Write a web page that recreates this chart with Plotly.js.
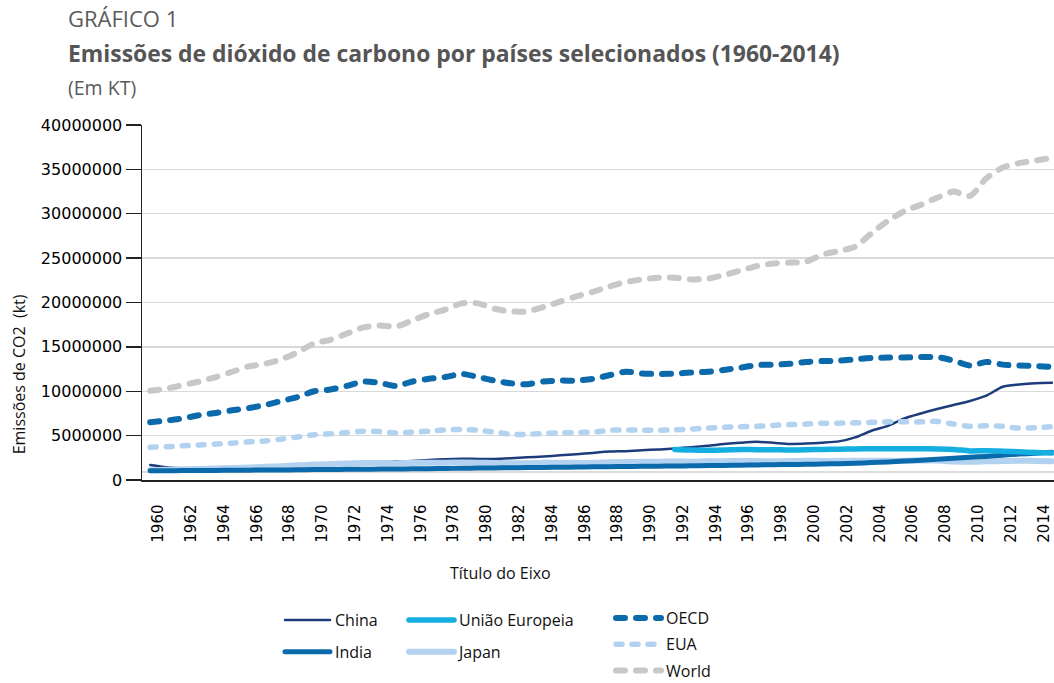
<!DOCTYPE html>
<html><head><meta charset="utf-8">
<script src="https://cdn.plot.ly/plotly-3.0.1.min.js"></script>
<style>
html,body{margin:0;padding:0;background:#fff;overflow:hidden}
#chart{width:1054px;height:683px}
.scatterlayer .js-line,.legendlines path{stroke-linecap:round;stroke-linejoin:round}
</style></head><body><div id="chart"></div>
<script>
const years = [1960,1961,1962,1963,1964,1965,1966,1967,1968,1969,1970,1971,1972,1973,1974,1975,1976,1977,1978,1979,
1980,1981,1982,1983,1984,1985,1986,1987,1988,1989,1990,1991,1992,1993,1994,1995,1996,1997,1998,1999,
2000,2001,2002,2003,2004,2005,2006,2007,2008,2009,2010,2011,2012,2013,2014,2015];

const china = [1700000,1450000,1300000,1300000,1350000,1400000,1500000,1400000,1450000,1600000,
1800000,1850000,1900000,1950000,2000000,2100000,2150000,2250000,2350000,2400000,
2370000,2370000,2450000,2550000,2650000,2780000,2900000,3050000,3200000,3250000,
3350000,3450000,3550000,3700000,3850000,4050000,4200000,4300000,4200000,4070000,
4100000,4200000,4350000,4800000,5550000,6100000,6950000,7500000,8000000,8450000,
8900000,9500000,10500000,10750000,10900000,10950000];

const india = [1050000,1050000,1060000,1070000,1080000,1100000,1110000,1120000,1130000,1150000,
1170000,1180000,1200000,1210000,1230000,1240000,1260000,1280000,1300000,1320000,
1340000,1360000,1380000,1400000,1420000,1440000,1460000,1480000,1500000,1520000,
1540000,1560000,1580000,1600000,1620000,1640000,1670000,1700000,1720000,1750000,
1770000,1800000,1840000,1890000,1960000,2040000,2130000,2230000,2330000,2440000,
2560000,2660000,2800000,2920000,3020000,3120000];

const uniaoEuropeia = [null,null,null,null,null,null,null,null,null,null,
null,null,null,null,null,null,null,null,null,null,
null,null,null,null,null,null,null,null,null,null,
null,null,3450000,3380000,3350000,3380000,3450000,3420000,3420000,3380000,
3400000,3450000,3470000,3500000,3520000,3520000,3520000,3520000,3500000,3450000,
3280000,3300000,3250000,3180000,3100000,3050000];

const japan = [1100000,1150000,1200000,1250000,1300000,1350000,1400000,1480000,1550000,1650000,
1750000,1800000,1850000,1920000,1920000,1900000,1920000,1950000,1950000,1970000,
1950000,1920000,1900000,1900000,1930000,1930000,1930000,1930000,2000000,2020000,
2050000,2070000,2080000,2070000,2100000,2120000,2140000,2140000,2100000,2140000,
2160000,2150000,2160000,2170000,2180000,2180000,2180000,2200000,2200000,2080000,
2050000,2100000,2150000,2180000,2150000,2120000];

const oecd = [6500000,6700000,6950000,7300000,7550000,7850000,8100000,8450000,8900000,9350000,
10000000,10200000,10600000,11100000,10950000,10600000,11100000,11400000,11600000,11950000,
11600000,11200000,10900000,10800000,11100000,11200000,11200000,11400000,11800000,12200000,
12000000,11950000,12000000,12100000,12200000,12400000,12650000,12950000,13000000,13100000,
13300000,13400000,13450000,13600000,13750000,13800000,13800000,13850000,13850000,13450000,
12900000,13300000,13000000,12900000,12850000,12750000];

const eua = [3700000,3750000,3850000,3950000,4050000,4150000,4300000,4400000,4600000,4850000,
5100000,5200000,5350000,5500000,5450000,5300000,5400000,5500000,5650000,5700000,
5600000,5400000,5150000,5150000,5250000,5300000,5350000,5400000,5600000,5650000,
5600000,5600000,5650000,5750000,5850000,5950000,6000000,6050000,6150000,6250000,
6300000,6400000,6400000,6450000,6500000,6550000,6550000,6550000,6600000,6300000,
6050000,6100000,6050000,5850000,5900000,6000000];

const world = [10050000,10300000,10700000,11100000,11600000,12200000,12800000,13100000,13600000,14400000,
15400000,15800000,16500000,17200000,17400000,17300000,18000000,18700000,19200000,19900000,
19900000,19300000,19000000,19000000,19500000,20100000,20700000,21200000,21800000,22300000,
22600000,22800000,22800000,22600000,22700000,23100000,23600000,24100000,24400000,24500000,
24600000,25400000,25800000,26300000,27800000,29200000,30300000,31000000,31800000,32500000,
32000000,34000000,35200000,35700000,36000000,36300000];

const yTicks = [0,5000000,10000000,15000000,20000000,25000000,30000000,35000000,40000000];
const labelYears = years.filter((y,i)=> i%2===0 && y<=2014);

const W = 1054, H = 683, L = 141.7, R = 1054, T = 125, B = 480;
const px = x => (x - L)/(R - L);
const py = y => (B - y)/(B - T);
const catW = 16.4;
const xRange = [years[0]-0.5, years[0]-0.5 + (R-L)/catW];

const sm = 0.7;
function tr(name, y, color, width, dash, legend, rank){
  return {type:'scatter', mode:'lines', name:name, x:years, y:y,
    line:{color:color, width:width, dash:dash||'solid', shape:'spline', smoothing:sm},
    legend:legend, legendgroup:name, legendrank:rank, hoverinfo:'skip', connectgaps:false};
}

const data = [
  tr('China', china, '#1d3c7c', 2.5, null, 'legend', 1),
  tr('Japan', japan, '#b3d2f0', 6, null, 'legend2', 2),
  tr('India', india, '#0b6aab', 5, null, 'legend', 2),
  tr('União Europeia', uniaoEuropeia, '#14aee0', 5.5, null, 'legend2', 1),
  tr('EUA', eua, '#b3d2f0', 5.5, '6px,10px', 'legend3', 2),
  tr('OECD', oecd, '#0b6aab', 6, '9px,11px', 'legend3', 1),
  tr('World', world, '#c8c8c8', 6, '9px,11px', 'legend3', 3)
];

const legFont = {family:'Open Sans, sans-serif', size:16, color:'#111'};
function leg(x, y, gap){
  return {xref:'container', yref:'container', x:x/W, y:1 - y/H, xanchor:'left', yanchor:'top',
    orientation:'v', bgcolor:'rgba(0,0,0,0)', borderwidth:0, font:legFont,
    itemwidth:45, tracegroupgap:gap, traceorder:'grouped', itemclick:false, itemdoubleclick:false};
}

const ann = (text, x, y, opts) => Object.assign({text:text, xref:'paper', yref:'paper', x:px(x), y:py(y),
  xanchor:'left', yanchor:'middle', showarrow:false}, opts);

const layout = {
  width: W, height: H,
  margin: {l: L, r: 0, t: T, b: H - B, pad: 0, autoexpand:false},
  paper_bgcolor: '#fff', plot_bgcolor: '#fff',
  showlegend: true,
  font: {family:'DejaVu Sans, sans-serif', color:'#000'},
  xaxis: {
    type:'linear', range:xRange,
    tickvals: labelYears.map(y=>y+0.5), ticktext: labelYears.map(String), tickangle: -90,
    ticks:'outside', ticklen:17, tickwidth:1, tickcolor:'rgba(0,0,0,0)',
    showline:true, linecolor:'#222', linewidth:1.5,
    showgrid:false, zeroline:false, automargin:false,
    tickfont:{family:'DejaVu Sans, sans-serif', size:15, color:'#000'}
  },
  xaxis2: {
    type:'linear', range:xRange, overlaying:'x', anchor:'y', side:'bottom',
    tickvals: labelYears.map(y=>y-0.5), showticklabels:false,
    ticks:'outside', ticklen:16, tickwidth:1.3, tickcolor:'#222',
    showline:false, showgrid:false, zeroline:false, automargin:false
  },
  yaxis: {
    range:[0, 40000000], tickvals:yTicks, ticktext:yTicks.map(v=>String(v)),
    ticks:'outside', ticklen:15, tickwidth:1.3, tickcolor:'#222',
    showline:true, linecolor:'#222', linewidth:1.5, automargin:false,
    showgrid:true, gridcolor:'#d9d9d9', gridwidth:1.3, zeroline:false,
    tickfont:{family:'DejaVu Sans, sans-serif', size:16, color:'#000'}
  },
  legend: leg(280, 603, 8),
  legend2: leg(404, 603, 8),
  legend3: leg(611, 601, 2.5),
  shapes: [{type:'line', xref:'paper', yref:'y', x0:0, x1:1, y0:900000, y1:900000,
    line:{color:'#dcdcdc', width:2}, layer:'below'}],
  annotations: [
    ann('GRÁFICO 1', 66, 18, {font:{family:'Open Sans, sans-serif', size:22, color:'#5a5a5a'}}),
    ann('<b>Emissões de dióxido de carbono por países selecionados (1960-2014)</b>', 66, 53, {font:{family:'Open Sans, sans-serif', size:22.9, color:'#555'}}),
    ann('(Em KT)', 66, 88, {font:{family:'Open Sans, sans-serif', size:19.5, color:'#5a5a5a'}}),
    ann('Emissões de CO2  (kt)', 19, 374, {xanchor:'center', textangle:-90, font:{family:'Open Sans, sans-serif', size:16, color:'#111'}}),
    ann('Título do Eixo', 500, 573, {xanchor:'center', font:{family:'Open Sans, sans-serif', size:16, color:'#111'}})
  ]
};

Plotly.newPlot('chart', data, layout, {staticPlot:true, displayModeBar:false});
</script></body></html>
